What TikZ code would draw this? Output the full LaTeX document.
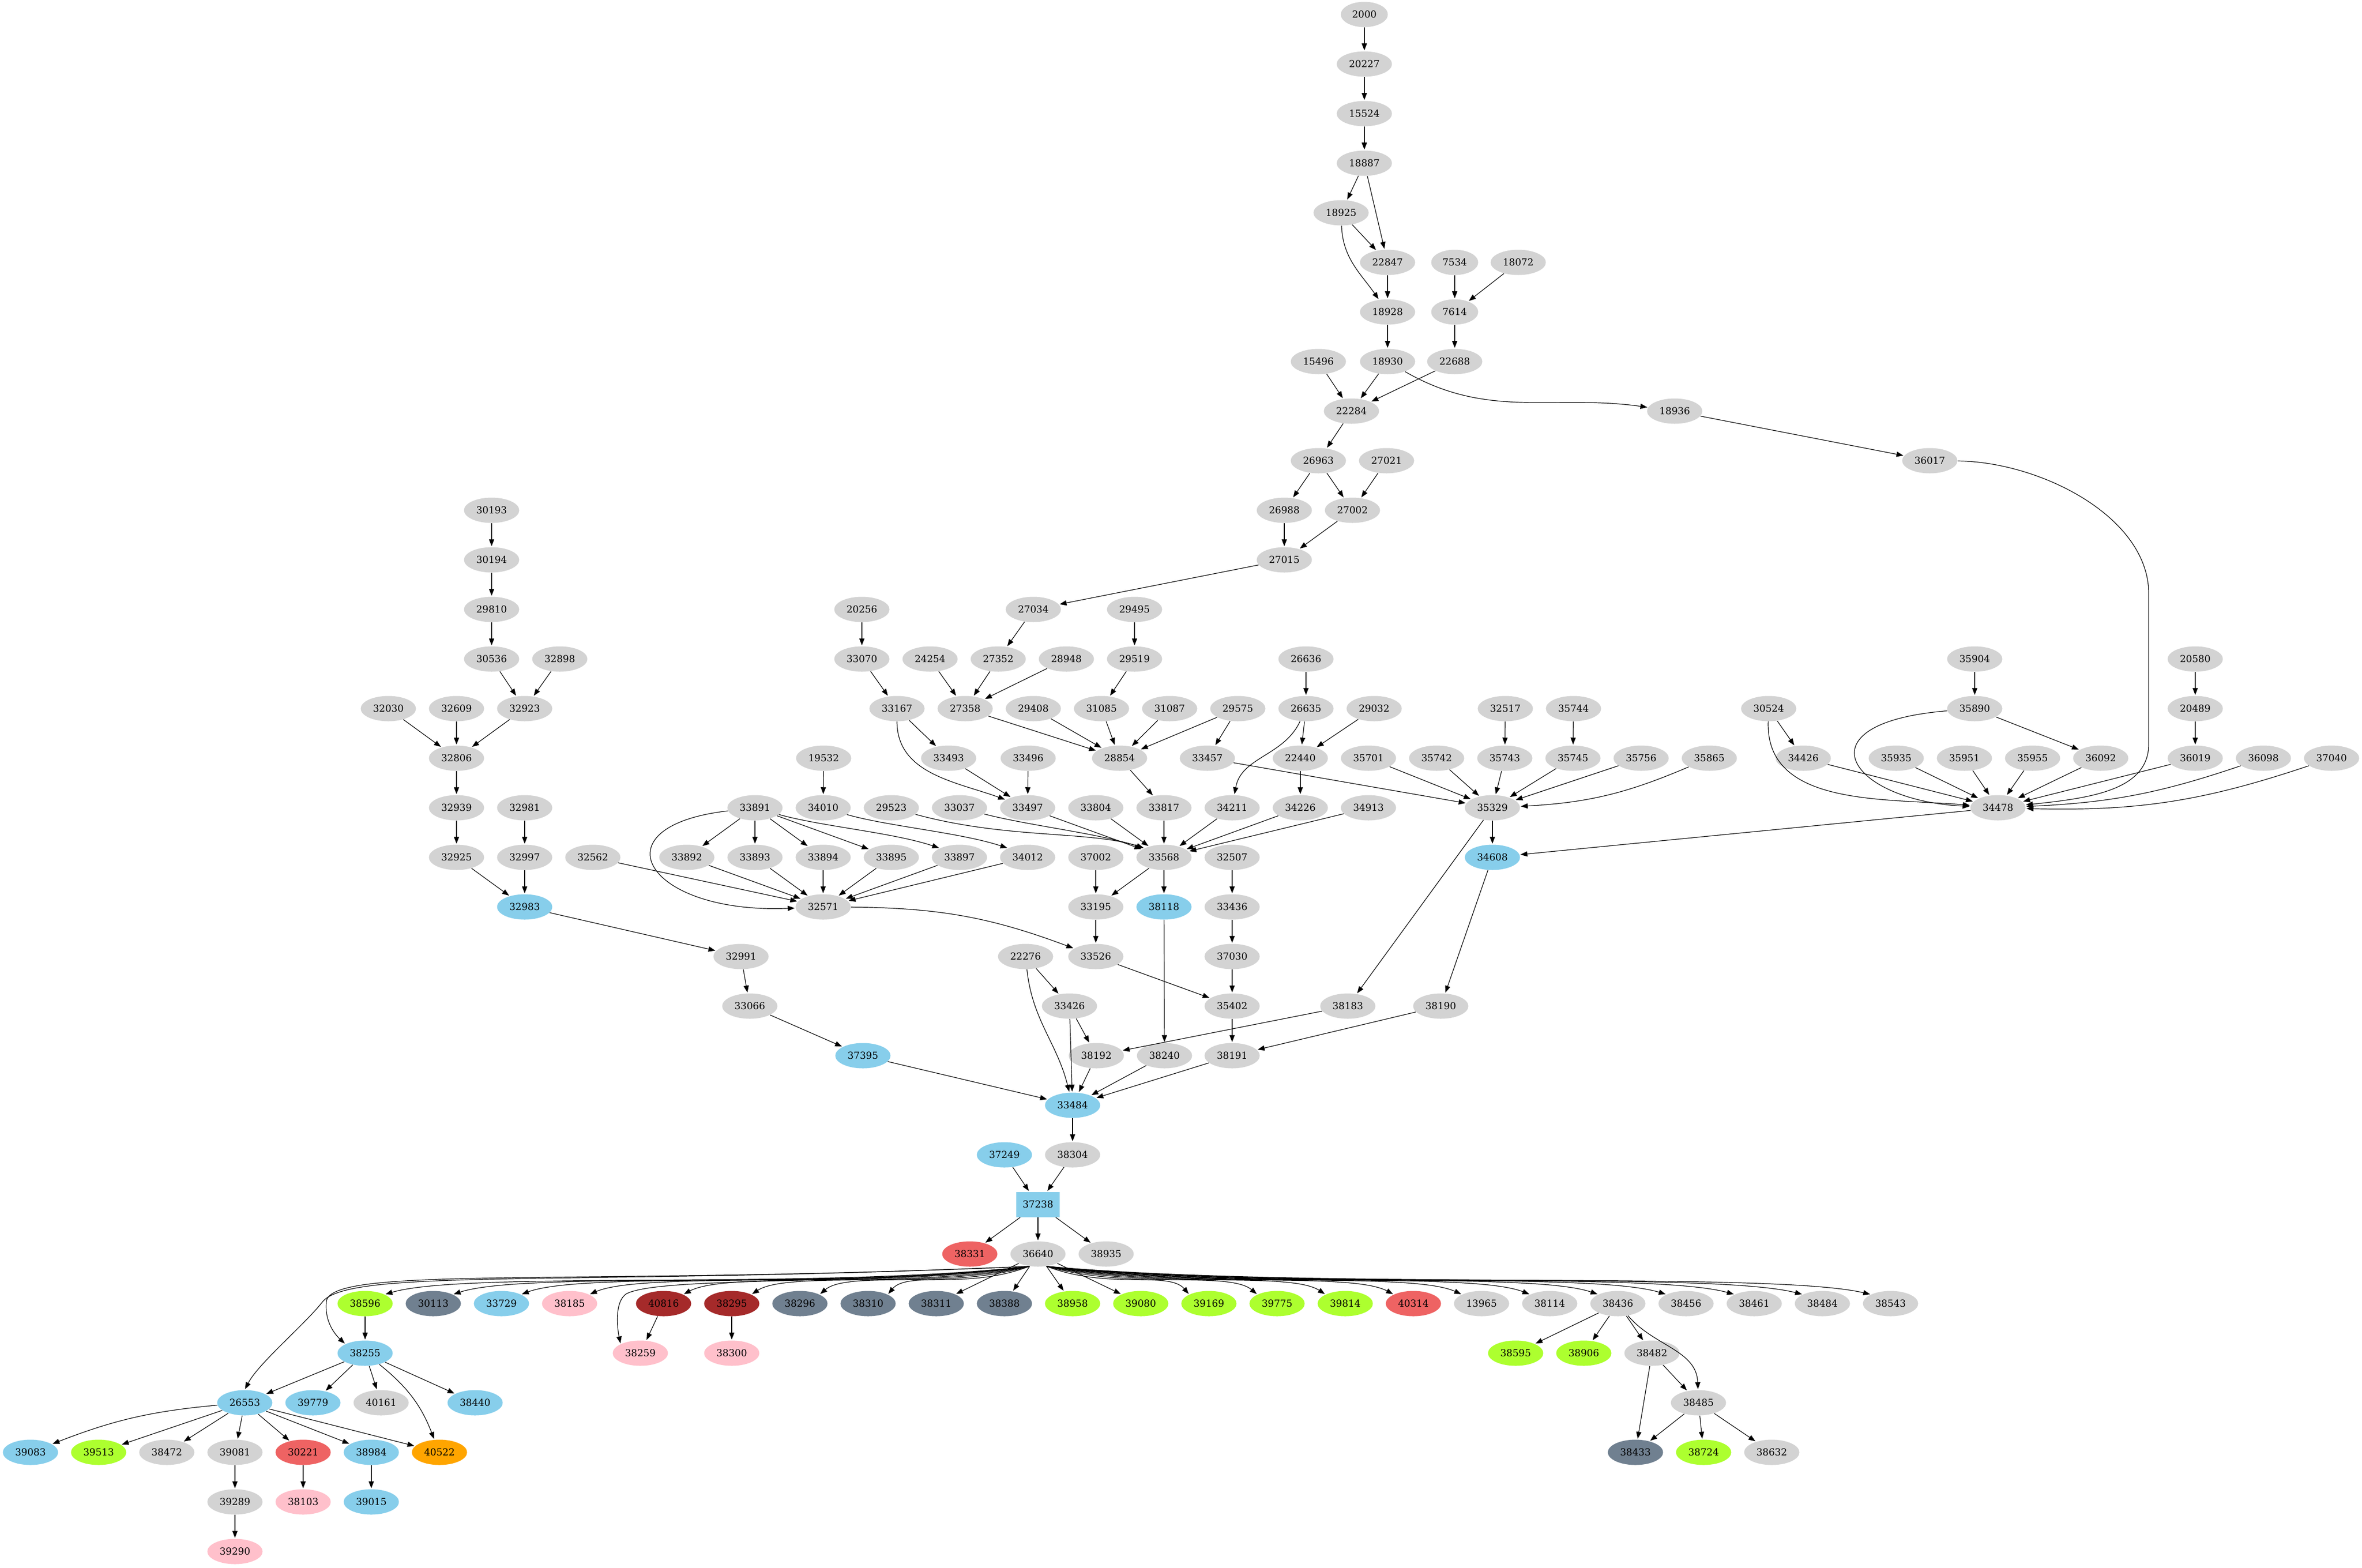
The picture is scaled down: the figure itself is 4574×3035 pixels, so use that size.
\documentclass[tikz,border=0pt]{standalone}
\usepackage{fontspec}
\setmainfont{DejaVu Serif}
\usetikzlibrary{arrows.meta,shapes.geometric,positioning}
\definecolor{gvgray}{HTML}{D3D3D3}
\definecolor{gvsky}{HTML}{87CEEB}
\definecolor{gvlime}{HTML}{ADFF2F}
\definecolor{gvslate}{HTML}{708090}
\definecolor{gvpink}{HTML}{FFC0CB}
\definecolor{gvbrown}{HTML}{A52A2A}
\definecolor{gvred}{HTML}{EE6363}
\definecolor{gvorange}{HTML}{FFA500}

\begin{document}
\begin{tikzpicture}[x=0.75pt,y=0.75pt,shorten >=1pt,node distance=72pt and 99pt,on grid,
   >={Triangle[length=10pt,width=7.5pt]},line width=0.9pt,
   vtx/.style={ellipse,fill=gvgray,minimum width=80.25pt,minimum height=36.75pt,inner sep=0pt,font=\fontsize{14pt}{17pt}\selectfont},
   vslim/.style={minimum width=68.25pt},
   vbox/.style={rectangle,fill=gvsky,minimum width=63pt,minimum height=36.75pt,inner sep=0pt,font=\fontsize{14pt}{17pt}\selectfont},
   vsky/.style={fill=gvsky},
   vlime/.style={fill=gvlime},
   vslate/.style={fill=gvslate},
   vpink/.style={fill=gvpink},
   vbrown/.style={fill=gvbrown},
   vred/.style={fill=gvred},
   vorange/.style={fill=gvorange}]
\useasboundingbox (0,0) rectangle (4574,-3035);

   % top chain
   \node[vtx,vslim] (p_2000) at (2642,-28) {2000};
   \node[vtx] (p_20227) [below=of p_2000] {20227};
   \node[vtx] (p_15524) [below=of p_20227] {15524};
   \node[vtx] (p_18887) [below=of p_15524] {18887};
   \node[vtx] (p_18925) at (2597,-412) {18925};
   \node[vtx] (p_22847) at (2687,-508) {22847};
   \node[vtx,vslim] (p_7534) at (2817,-508) {7534};
   \node[vtx] (p_18072) at (2940,-508) {18072};
   \node[vtx] (p_18928) [below=of p_22847] {18928};
   \node[vtx,vslim] (p_7614) [below=of p_7534] {7614};
   \node[vtx] (p_15496) at (2553,-700) {15496};
   \node[vtx] (p_18930) [below=of p_18928] {18930};
   \node[vtx] (p_22688) [below=of p_7614] {22688};
   \node[vtx] (p_22284) at (2617,-796) {22284};
   \node[vtx] (p_18936) at (3243,-796) {18936};
   \node[vtx] (p_26963) at (2553,-892) {26963};
   \node[vtx] (p_27021) [right=of p_26963] {27021};
   \node[vtx] (p_36017) at (3737,-892) {36017};
   \node[vtx] (p_30193) at (952,-988) {30193};
   \node[vtx] (p_26988) at (2487,-988) {26988};
   \node[vtx] (p_27002) [right=of p_26988] {27002};
   \node[vtx] (p_30194) [below=of p_30193] {30194};
   \node[vtx] (p_27015) [below=of p_26988] {27015};
   \node[vtx] (p_29810) [below=of p_30194] {29810};
   \node[vtx] (p_20256) at (1669,-1180) {20256};
   \node[vtx] (p_27034) at (2001,-1180) {27034};
   \node[vtx] (p_29495) at (2197,-1180) {29495};

   % ranks 13 to 15
   \node[vtx] (p_30536) [below=of p_29810] {30536};
   \node[vtx] (p_32898) [right=of p_30536] {32898};
   \node[vtx] (p_33070) [below=of p_20256] {33070};
   \node[vtx] (p_24254) [right=of p_33070] {24254};
   \node[vtx] (p_27352) [right=of p_24254] {27352};
   \node[vtx] (p_28948) [right=of p_27352] {28948};
   \node[vtx] (p_29519) [right=of p_28948] {29519};
   \node[vtx] (p_26636) at (2529,-1276) {26636};
   \node[vtx] (p_35904) at (3824,-1276) {35904};
   \node[vtx] (p_20580) at (4251,-1276) {20580};
   \node[vtx] (p_32030) at (752,-1372) {32030};
   \node[vtx] (p_32609) [right=of p_32030] {32609};
   \node[vtx] (p_32923) [right=of p_32609] {32923};
   \node[vtx] (p_33167) at (1737,-1372) {33167};
   \node[vtx] (p_27358) [right=of p_33167] {27358};
   \node[vtx] (p_29408) [right=of p_27358] {29408};
   \node[vtx] (p_31085) [right=of p_29408] {31085};
   \node[vtx] (p_31087) [right=of p_31085] {31087};
   \node[vtx] (p_29575) [right=of p_31087] {29575};
   \node[vtx] (p_26635) [right=of p_29575] {26635};
   \node[vtx] (p_29032) [right=of p_26635] {29032};
   \node[vtx] (p_32517) at (2915,-1372) {32517};
   \node[vtx] (p_35744) [right=of p_32517] {35744};
   \node[vtx] (p_30524) at (3425,-1372) {30524};
   \node[vtx] (p_35890) [below=of p_35904] {35890};
   \node[vtx] (p_20489) [below=of p_20580] {20489};
   \node[vtx] (p_32806) [below=of p_32609] {32806};
   \node[vtx] (p_19532) at (1595,-1468) {19532};
   \node[vtx] (p_33493) at (1837,-1468) {33493};
   \node[vtx] (p_33496) at (1991,-1468) {33496};
   \node[vtx] (p_28854) at (2168,-1468) {28854};
   \node[vtx] (p_33457) at (2338,-1468) {33457};
   \node[vtx] (p_22440) at (2518,-1468) {22440};
   \node[vtx] (p_35701) [right=of p_22440] {35701};
   \node[vtx] (p_35742) [right=of p_35701] {35742};
   \node[vtx] (p_35743) [right=of p_35742] {35743};
   \node[vtx] (p_35745) [right=of p_35743] {35745};
   \node[vtx] (p_35756) [right=of p_35745] {35756};
   \node[vtx] (p_35865) [right=of p_35756] {35865};
   \node[vtx] (p_34426) at (3492,-1468) {34426};
   \node[vtx] (p_35935) at (3672,-1468) {35935};
   \node[vtx] (p_35951) [right=of p_35935] {35951};
   \node[vtx] (p_35955) [right=of p_35951] {35955};
   \node[vtx] (p_36092) [right=of p_35955] {36092};
   \node[vtx] (p_36019) [below=of p_20489] {36019};
   \node[vtx] (p_36098) [right=of p_36019] {36098};
   \node[vtx] (p_37040) [right=of p_36098] {37040};

   % ranks 16 to 21
   \node[vtx] (p_32939) [below=of p_32806] {32939};
   \node[vtx] (p_32981) [right=of p_32939] {32981};
   \node[vtx] (p_33891) at (1462,-1564) {33891};
   \node[vtx] (p_34010) [right=of p_33891] {34010};
   \node[vtx] (p_29523) [right=of p_34010] {29523};
   \node[vtx] (p_33037) [right=of p_29523] {33037};
   \node[vtx] (p_33497) [right=of p_33037] {33497};
   \node[vtx] (p_33804) [right=of p_33497] {33804};
   \node[vtx] (p_33817) [right=of p_33804] {33817};
   \node[vtx] (p_34211) [right=of p_33817] {34211};
   \node[vtx] (p_34226) [right=of p_34211] {34226};
   \node[vtx] (p_34913) [right=of p_34226] {34913};
   \node[vtx] (p_35329) at (2890,-1564) {35329};
   \node[vtx] (p_34478) at (3869,-1564) {34478};
   \node[vtx] (p_32925) [below=of p_32939] {32925};
   \node[vtx] (p_32997) [below=of p_32981] {32997};
   \node[vtx] (p_32562) [right=of p_32997] {32562};
   \node[vtx] (p_33892) at (1330,-1660) {33892};
   \node[vtx] (p_33893) [right=of p_33892] {33893};
   \node[vtx] (p_33894) [right=of p_33893] {33894};
   \node[vtx] (p_33895) [right=of p_33894] {33895};
   \node[vtx] (p_33897) [right=of p_33895] {33897};
   \node[vtx] (p_34012) [right=of p_33897] {34012};
   \node[vtx] (p_37002) [right=of p_34012] {37002};
   \node[vtx] (p_33568) [right=of p_37002] {33568};
   \node[vtx] (p_32507) [right=of p_33568] {32507};
   \node[vtx,vsky] (p_34608) [below=of p_35329] {34608};
   \node[vtx,vsky] (p_32983) [below=of p_32997] {32983};
   \node[vtx] (p_32571) [below=of p_33894] {32571};
   \node[vtx] (p_33195) [below=of p_37002] {33195};
   \node[vtx,vsky] (p_38118) [below=of p_33568] {38118};
   \node[vtx] (p_33436) [below=of p_32507] {33436};
   \node[vtx] (p_32991) at (1435,-1852) {32991};
   \node[vtx] (p_22276) at (1986,-1852) {22276};
   \node[vtx] (p_33526) [below=of p_33195] {33526};
   \node[vtx] (p_37030) [below=of p_33436] {37030};
   \node[vtx] (p_33066) at (1452,-1948) {33066};
   \node[vtx] (p_33426) at (2071,-1948) {33426};
   \node[vtx] (p_35402) [below=of p_37030] {35402};
   \node[vtx] (p_38183) at (2610,-1948) {38183};
   \node[vtx] (p_38190) at (2790,-1948) {38190};
   \node[vtx,vsky] (p_37395) at (1671,-2044) {37395};
   \node[vtx] (p_38192) at (2123,-2044) {38192};
   \node[vtx] (p_38240) [right=of p_38192] {38240};
   \node[vtx] (p_38191) [below=of p_35402] {38191};

   % ranks 22 to 31
   \node[vtx,vsky] (p_33484) at (2077,-2140) {33484};
   \node[vtx] (p_38304) [below=of p_33484] {38304};
   \node[vtx,vsky] (p_37249) [left=of p_38304] {37249};
   \node[vbox] (p_37238) at (2010,-2332) {37238};
   \node[vtx] (p_36640) [below=of p_37238] {36640};
   \node[vtx,vred] (p_38331) [left=of p_36640] {38331};
   \node[vtx] (p_38935) [right=of p_36640] {38935};
   \node[vtx,vlime] (p_38596) at (707,-2524) {38596};
   \node[vtx,vslate] (p_30113) [right=of p_38596] {30113};
   \node[vtx,vsky] (p_33729) [right=of p_30113] {33729};
   \node[vtx,vpink] (p_38185) [right=of p_33729] {38185};
   \node[vtx,vbrown] (p_40816) at (1285,-2524) {40816};
   \node[vtx,vbrown] (p_38295) [right=of p_40816] {38295};
   \node[vtx,vslate] (p_38296) [right=of p_38295] {38296};
   \node[vtx,vslate] (p_38310) [right=of p_38296] {38310};
   \node[vtx,vslate] (p_38311) [right=of p_38310] {38311};
   \node[vtx,vslate] (p_38388) [right=of p_38311] {38388};
   \node[vtx,vlime] (p_38958) [right=of p_38388] {38958};
   \node[vtx,vlime] (p_39080) [right=of p_38958] {39080};
   \node[vtx,vlime] (p_39169) [right=of p_39080] {39169};
   \node[vtx,vlime] (p_39775) [right=of p_39169] {39775};
   \node[vtx,vlime] (p_39814) [right=of p_39775] {39814};
   \node[vtx,vred] (p_40314) [right=of p_39814] {40314};
   \node[vtx] (p_13965) [right=of p_40314] {13965};
   \node[vtx] (p_38114) [right=of p_13965] {38114};
   \node[vtx] (p_38436) [right=of p_38114] {38436};
   \node[vtx] (p_38456) [right=of p_38436] {38456};
   \node[vtx] (p_38461) [right=of p_38456] {38461};
   \node[vtx] (p_38484) [right=of p_38461] {38484};
   \node[vtx] (p_38543) [right=of p_38484] {38543};
   \node[vtx,vsky] (p_38255) [below=of p_38596] {38255};
   \node[vtx,vpink] (p_38259) at (1240,-2620) {38259};
   \node[vtx,vpink] (p_38300) [below=of p_38295] {38300};
   \node[vtx,vlime] (p_38595) at (2935,-2620) {38595};
   \node[vtx,vlime] (p_38906) [right=of p_38595] {38906};
   \node[vtx] (p_38482) [right=of p_38906] {38482};
   \node[vtx,vsky] (p_26553) at (474,-2716) {26553};
   \node[vtx,vsky] (p_39779) [right=of p_26553] {39779};
   \node[vtx] (p_40161) [right=of p_39779] {40161};
   \node[vtx,vsky] (p_38440) at (920,-2716) {38440};
   \node[vtx] (p_38485) at (3289,-2716) {38485};
   \node[vtx,vsky] (p_39083) at (59,-2812) {39083};
   \node[vtx,vlime] (p_39513) [right=of p_39083] {39513};
   \node[vtx] (p_38472) [right=of p_39513] {38472};
   \node[vtx] (p_39081) [right=of p_38472] {39081};
   \node[vtx,vred] (p_30221) [right=of p_39081] {30221};
   \node[vtx,vsky] (p_38984) [right=of p_30221] {38984};
   \node[vtx,vorange] (p_40522) [right=of p_38984] {40522};
   \node[vtx,vslate] (p_38433) at (3167,-2812) {38433};
   \node[vtx,vlime] (p_38724) [right=of p_38433] {38724};
   \node[vtx] (p_38632) [right=of p_38724] {38632};
   \node[vtx] (p_39289) [below=of p_39081] {39289};
   \node[vtx,vpink] (p_38103) [below=of p_30221] {38103};
   \node[vtx,vsky] (p_39015) [below=of p_38984] {39015};
   \node[vtx,vpink] (p_39290) [below=of p_39289] {39290};

   \path[->]
    (p_2000) edge (p_20227)
    (p_20227) edge (p_15524)
    (p_15524) edge (p_18887)
    (p_18887) edge (p_18925)
              edge (p_22847)
    (p_18925) edge (p_22847)
              edge [out=-88,in=125] (p_18928)
    (p_22847) edge (p_18928)
    (p_7534) edge (p_7614)
    (p_18072) edge (p_7614)
    (p_18928) edge (p_18930)
    (p_7614) edge (p_22688)
    (p_15496) edge (p_22284)
    (p_18930) edge (p_22284)
              edge [out=-30,in=172] (p_18936)
    (p_22688) edge (p_22284)
    (p_18936) edge (p_36017)
    (p_22284) edge (p_26963)
    (p_26963) edge (p_26988)
              edge (p_27002)
    (p_27021) edge (p_27002)
    (p_26988) edge (p_27015)
    (p_27002) edge (p_27015)
    (p_27015) edge (p_27034);

   \path[->]
    (p_30193) edge (p_30194)
    (p_30194) edge (p_29810)
    (p_29810) edge (p_30536)
    (p_30536) edge (p_32923)
    (p_32898) edge (p_32923)
    (p_32030) edge (p_32806)
    (p_32609) edge (p_32806)
    (p_32923) edge (p_32806)
    (p_32806) edge (p_32939)
    (p_32939) edge (p_32925)
    (p_32925) edge (p_32983)
    (p_32981) edge (p_32997)
    (p_32997) edge (p_32983)
    (p_32983) edge (p_32991)
    (p_32991) edge (p_33066)
    (p_33066) edge (p_37395)
    (p_37395) edge (p_33484);

   \path[->]
    (p_20256) edge (p_33070)
    (p_33070) edge (p_33167)
    (p_27034) edge (p_27352)
    (p_29495) edge (p_29519)
    (p_24254) edge (p_27358)
    (p_27352) edge (p_27358)
    (p_28948) edge (p_27358)
    (p_29519) edge (p_31085)
    (p_33167) edge (p_33493)
              edge [out=-90,in=160] (p_33497)
    (p_27358) edge (p_28854)
    (p_29408) edge (p_28854)
    (p_31085) edge (p_28854)
    (p_31087) edge (p_28854)
    (p_29575) edge (p_28854)
              edge (p_33457)
    (p_33493) edge (p_33497)
    (p_33496) edge (p_33497)
    (p_28854) edge (p_33817)
    (p_26636) edge (p_26635)
    (p_26635) edge (p_22440)
              edge [out=-115,in=80] (p_34211)
    (p_29032) edge (p_22440)
    (p_22440) edge (p_34226)
    (p_19532) edge (p_34010)
    (p_33891) edge (p_33892)
              edge (p_33893)
              edge (p_33894)
              edge (p_33895)
    (p_33497) edge (p_33568)
    (p_33804) edge (p_33568)
    (p_33817) edge (p_33568)
    (p_34211) edge (p_33568)
    (p_34226) edge (p_33568)
    (p_34913) edge (p_33568)
    (p_32562) edge (p_32571)
    (p_33892) edge (p_32571)
    (p_33893) edge (p_32571)
    (p_33894) edge (p_32571)
    (p_33895) edge (p_32571)
    (p_33897) edge (p_32571)
    (p_34012) edge (p_32571)
    (p_37002) edge (p_33195)
    (p_33568) edge (p_33195)
              edge (p_38118)
    (p_32507) edge (p_33436)
    (p_33436) edge (p_37030)
    (p_37030) edge (p_35402)
    (p_32571) edge [bend left=10] (p_33526)
    (p_33195) edge (p_33526)
    (p_33526) edge (p_35402)
    (p_22276) edge (p_33426)
              edge [out=-84,in=104] (p_33484)
    (p_33426) edge (p_38192)
              edge (p_33484)
    (p_38118) edge (p_38240)
    (p_35402) edge (p_38191)
    (p_38183) edge (p_38192)
    (p_38190) edge (p_38191)
    (p_38192) edge (p_33484)
    (p_38240) edge (p_33484)
    (p_38191) edge (p_33484);
   \draw[->] (p_33891) .. controls (1150,-1600) and (1250,-1770) .. (p_32571);
   \draw[->] (p_33891) .. controls (1590,-1600) and (1730,-1612) .. (p_33897.north west);
   \draw[->] (p_34010) .. controls (1720,-1600) and (1860,-1612) .. (p_34012.north west);
   \draw[->] (p_29523) .. controls (1950,-1625) and (2110,-1608) .. (p_33568.north west);
   \draw[->] (p_33037) .. controls (2000,-1600) and (2120,-1612) .. (p_33568.north west);

   \path[->]
    (p_33457) edge (p_35329)
    (p_35701) edge (p_35329)
    (p_35742) edge (p_35329)
    (p_32517) edge (p_35743)
    (p_35744) edge (p_35745)
    (p_35743) edge (p_35329)
    (p_35745) edge (p_35329)
    (p_35756) edge (p_35329)
    (p_35865) edge [bend left=10] (p_35329)
    (p_35904) edge (p_35890)
    (p_20580) edge (p_20489)
    (p_20489) edge (p_36019)
    (p_30524) edge (p_34426)
              edge [out=-92,in=175] (p_34478)
    (p_35890) edge (p_36092)
    (p_34426) edge (p_34478)
    (p_35935) edge (p_34478)
    (p_35951) edge (p_34478)
    (p_35955) edge (p_34478)
    (p_36092) edge (p_34478)
    (p_36019) edge (p_34478)
    (p_36098) edge [bend left=8] (p_34478)
    (p_37040) edge [bend left=10] (p_34478)
    (p_34478) edge (p_34608)
    (p_35329) edge (p_34608)
              edge (p_38183)
    (p_34608) edge (p_38190);
   \draw[->] (p_35890) .. controls (3480,-1400) and (3580,-1550) .. (p_34478);
   \draw[->] (p_36017) .. controls (3950,-894) and (4161,-1000) .. (4161,-1150)
      -- (4161,-1440) .. controls (4161,-1530) and (4050,-1545) .. (p_34478);

   \path[->]
    (p_33484) edge (p_38304)
    (p_38304) edge (p_37238)
    (p_37249) edge (p_37238)
    (p_37238) edge (p_38331)
              edge (p_36640)
              edge (p_38935)
    (p_36640) edge (p_38311)
              edge (p_38388)
              edge (p_38958)
              edge (p_39080)
    (p_38596) edge (p_38255)
    (p_40816) edge (p_38259)
    (p_38295) edge (p_38300)
    (p_38255) edge (p_26553)
              edge (p_39779)
              edge (p_40161)
              edge (p_38440)
              edge [bend left=15] (p_40522)
    (p_26553) edge [bend right=8] (p_39083)
              edge (p_39513)
              edge (p_38472)
              edge (p_39081)
              edge (p_30221)
              edge (p_38984)
              edge (p_40522)
    (p_39081) edge (p_39289)
    (p_39289) edge (p_39290)
    (p_30221) edge (p_38103)
    (p_38984) edge (p_39015)
    (p_38436) edge (p_38595)
              edge (p_38906)
              edge (p_38482)
              edge [out=-50,in=92] (p_38485)
    (p_38482) edge (p_38485)
              edge (p_38433)
    (p_38485) edge (p_38433)
              edge (p_38724)
              edge (p_38632);

   % fan of 36640, left side
   \draw[->] (p_36640.-125) .. controls (1581,-2498) and (901,-2460) .. (p_38596.north east);
   \draw[->] (p_36640.-125) .. controls (1621,-2498) and (1018,-2460) .. (p_30113.north east);
   \draw[->] (p_36640.-125) .. controls (1660,-2498) and (1134,-2460) .. (p_33729.north east);
   \draw[->] (p_36640.-125) .. controls (1700,-2498) and (1250,-2460) .. (p_38185.north east);
   \draw[->] (p_36640.-125) .. controls (1754,-2498) and (1410,-2460) .. (p_40816.north east);
   \draw[->] (p_36640.-125) .. controls (1794,-2498) and (1526,-2460) .. (p_38295.north east);
   \draw[->] (p_36640.-125) .. controls (1834,-2498) and (1642,-2460) .. (p_38296.north east);
   \draw[->] (p_36640.-125) .. controls (1873,-2498) and (1758,-2460) .. (p_38310.north east);
   \draw[->] (p_36640.-125) .. controls (1700,-2490) and (1280,-2470) .. (1213,-2505)
      .. controls (1190,-2520) and (1195,-2570) .. (p_38259.north west);
   \draw[->] (p_36640.-125) .. controls (1100,-2490) and (640,-2450) .. (632,-2520)
      .. controls (628,-2560) and (650,-2585) .. (p_38255.north west);
   \draw[->] (p_36640.-125) .. controls (1100,-2490) and (680,-2455) .. (625,-2520)
      .. controls (590,-2565) and (500,-2640) .. (p_26553.north);
   % fan of 36640, right side
   \draw[->] (p_36640.-55) .. controls (2147,-2498) and (2263,-2460) .. (p_39169.north west);
   \draw[->] (p_36640.-55) .. controls (2187,-2498) and (2379,-2460) .. (p_39775.north west);
   \draw[->] (p_36640.-55) .. controls (2227,-2498) and (2496,-2460) .. (p_39814.north west);
   \draw[->] (p_36640.-55) .. controls (2266,-2498) and (2612,-2460) .. (p_40314.north west);
   \draw[->] (p_36640.-55) .. controls (2306,-2498) and (2728,-2460) .. (p_13965.north west);
   \draw[->] (p_36640.-55) .. controls (2345,-2498) and (2844,-2460) .. (p_38114.north west);
   \draw[->] (p_36640.-55) .. controls (2385,-2498) and (2960,-2460) .. (p_38436.north west);
   \draw[->] (p_36640.-55) .. controls (2425,-2498) and (3076,-2460) .. (p_38456.north west);
   \draw[->] (p_36640.-55) .. controls (2464,-2498) and (3193,-2460) .. (p_38461.north west);
   \draw[->] (p_36640.-55) .. controls (2504,-2498) and (3309,-2460) .. (p_38484.north west);
   \draw[->] (p_36640.-55) .. controls (2543,-2498) and (3425,-2460) .. (p_38543.north west);

\end{tikzpicture}
\end{document}
